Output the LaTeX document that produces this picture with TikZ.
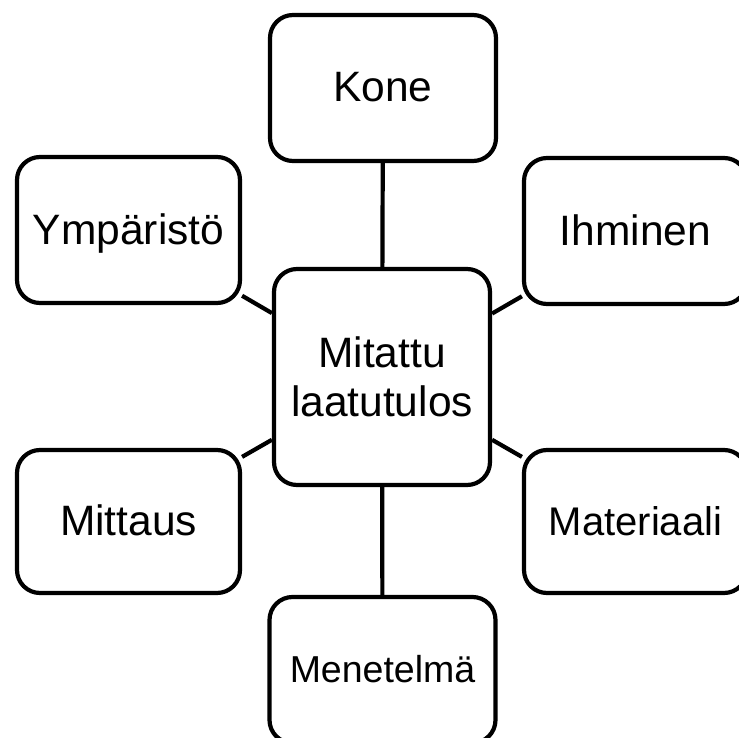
\documentclass[tikz,border=0pt]{standalone}
\usepackage{fontspec}
\setmainfont{Liberation Sans}
\tikzset{
  box/.style={draw=black, line width=4.2pt, rounded corners=23pt, fill=white,
    minimum width=223pt, minimum height=146pt, align=center, inner sep=0pt,
    font=\fontsize{42.5}{49}\selectfont},
  single/.style={text height=28pt, text depth=0pt},
  link/.style={draw=black, line width=4.2pt}
}
\begin{document}
\begin{tikzpicture}[x=1pt,y=-1pt]
\useasboundingbox (0,0) rectangle (738,738);
\node[box, minimum width=216pt, minimum height=216pt] (c) at (382,377) {Mitattu\\laatutulos};
\node[box, single, minimum width=226pt] (kone) at (383,88) {Kone};
\node[box, single] (ymp) at (128.5,230) {Ympäristö};
\node[box, single] (ihm) at (635.5,231) {Ihminen};
\node[box, single, minimum height=143pt] (mit) at (128.5,521.5) {Mittaus};
\node[box, single, minimum height=143pt, font=\fontsize{40}{46}\selectfont] (mat) at (635.5,521.5) {Materiaali};
\node[box, minimum width=226pt, font=\fontsize{37.5}{43}\selectfont, text height=25pt, text depth=0pt] (men) at (382.5,670) {Menetelmä};
\draw[link] (c) -- (kone);
\draw[link] (c) -- (ymp);
\draw[link] (c) -- (ihm);
\draw[link] (c) -- (mit);
\draw[link] (c) -- (mat);
\draw[link] (c) -- (men);
\end{tikzpicture}
\end{document}
